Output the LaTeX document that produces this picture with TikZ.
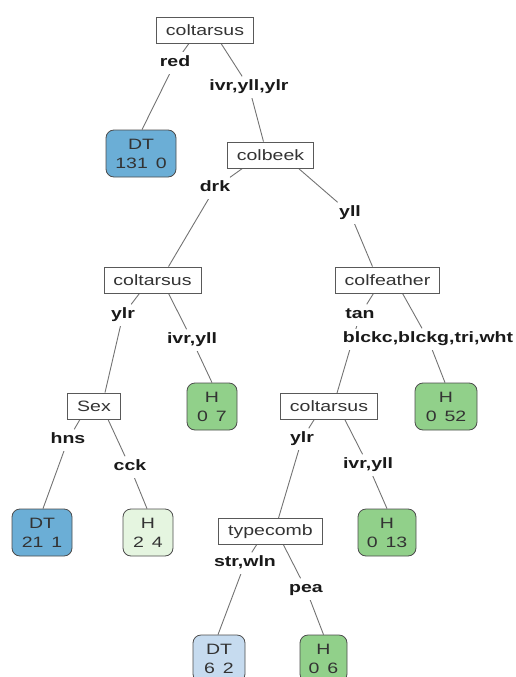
\documentclass[tikz,border=0pt]{standalone}
\usepackage{fontspec}
\setmainfont{Liberation Sans}[FakeStretch=1.3]
\usetikzlibrary{calc,backgrounds}
\begin{document}
\fontsize{15}{19}\selectfont
\begin{tikzpicture}[x=1pt,y=-1pt,
  split/.style={draw=black!65,fill=white,text=black!80,line width=0.8pt,inner xsep=9.5pt,inner ysep=0pt,minimum height=26pt},
  leaf/.style={draw=black!70,text=black!80,line width=0.8pt,rounded corners=8pt,align=center,minimum width=50pt,minimum height=47pt,inner sep=0pt},
  lbl/.style={fill=white,text=black!90,font=\bfseries,inner xsep=2pt,inner ysep=4pt,text height=10pt,text depth=3pt},
  branch/.style={draw=black!55,line width=0.9pt}]
\definecolor{dtdark}{RGB}{107,174,214}
\definecolor{dtlight}{RGB}{198,219,239}
\definecolor{hgreen}{RGB}{145,208,138}
\definecolor{hlight}{RGB}{229,245,224}
\useasboundingbox (0,0) rectangle (516,677);
\node[split] (root) at (205,30) {coltarsus};
\node[leaf,fill=dtdark,minimum width=70pt] (dtA) at (141,153.5) {DT\\131~\,0};
\node[split] (colbeek) at (270.5,155) {colbeek};
\node[split] (tarsusL) at (152.5,280) {coltarsus};
\node[split] (feather) at (387.5,280) {colfeather};
\node[split] (sex) at (94,406) {Sex};
\node[leaf,fill=hgreen] (hA) at (212,406.5) {H\\0~\,7};
\node[split] (tarsusR) at (329,406.5) {coltarsus};
\node[leaf,fill=hgreen,minimum width=62pt] (hB) at (446,406.5) {H\\0~\,52};
\node[leaf,fill=dtdark,minimum width=60pt] (dtB) at (42,532.5) {DT\\21~\,1};
\node[leaf,fill=hlight] (hC) at (148,532.5) {H\\2~\,4};
\node[split] (typecomb) at (270.5,531.5) {typecomb};
\node[leaf,fill=hgreen,minimum width=58pt] (hD) at (387,532.5) {H\\0~\,13};
\node[leaf,fill=dtlight,minimum width=52pt] (dtC) at (219,658.5) {DT\\6~\,2};
\node[leaf,fill=hgreen,minimum width=47pt] (hE) at (323.5,658.5) {H\\0~\,6};
\node[lbl] (red) at (175,63) {red};
\node[lbl] (ivrA) at (249,87) {ivr,yll,ylr};
\node[lbl] (drk) at (215,188) {drk};
\node[lbl] (yllA) at (350,213) {yll};
\node[lbl] (ylrA) at (123,315) {ylr};
\node[lbl] (ivrB) at (192,340) {ivr,yll};
\node[lbl] (tan) at (360,315) {tan};
\node[lbl] (blck) at (428,339) {blckc,blckg,tri,wht};
\node[lbl] (hns) at (68,440) {hns};
\node[lbl] (cck) at (130,467) {cck};
\node[lbl] (ylrB) at (302,439) {ylr};
\node[lbl] (ivrC) at (368,465) {ivr,yll};
\node[lbl] (strwln) at (245,563) {str,wln};
\node[lbl] (pea) at (306,589) {pea};
\begin{pgfonlayer}{background}
\foreach \p/\a/\l/\c/\b in {root/-16/red/dtA/1, root/16/ivrA/colbeek/-7,
  colbeek/-28/drk/tarsusL/16, colbeek/28/yllA/feather/-15,
  tarsusL/-13/ylrA/sex/11, tarsusL/16/ivrB/hA/0,
  feather/-14/tan/tarsusR/8, feather/15/blck/hB/-1,
  sex/-14/hns/dtB/1, sex/14/cck/hC/-1,
  tarsusR/-15/ylrB/typecomb/8, tarsusR/16/ivrC/hD/0,
  typecomb/-14/strwln/dtC/-1, typecomb/13/pea/hE/0}
  \draw[branch] ($(\p.south)+(\a,0)$) -- (\l) -- ($(\c.north)+(\b,0)$);
\end{pgfonlayer}
\end{tikzpicture}
\end{document}
